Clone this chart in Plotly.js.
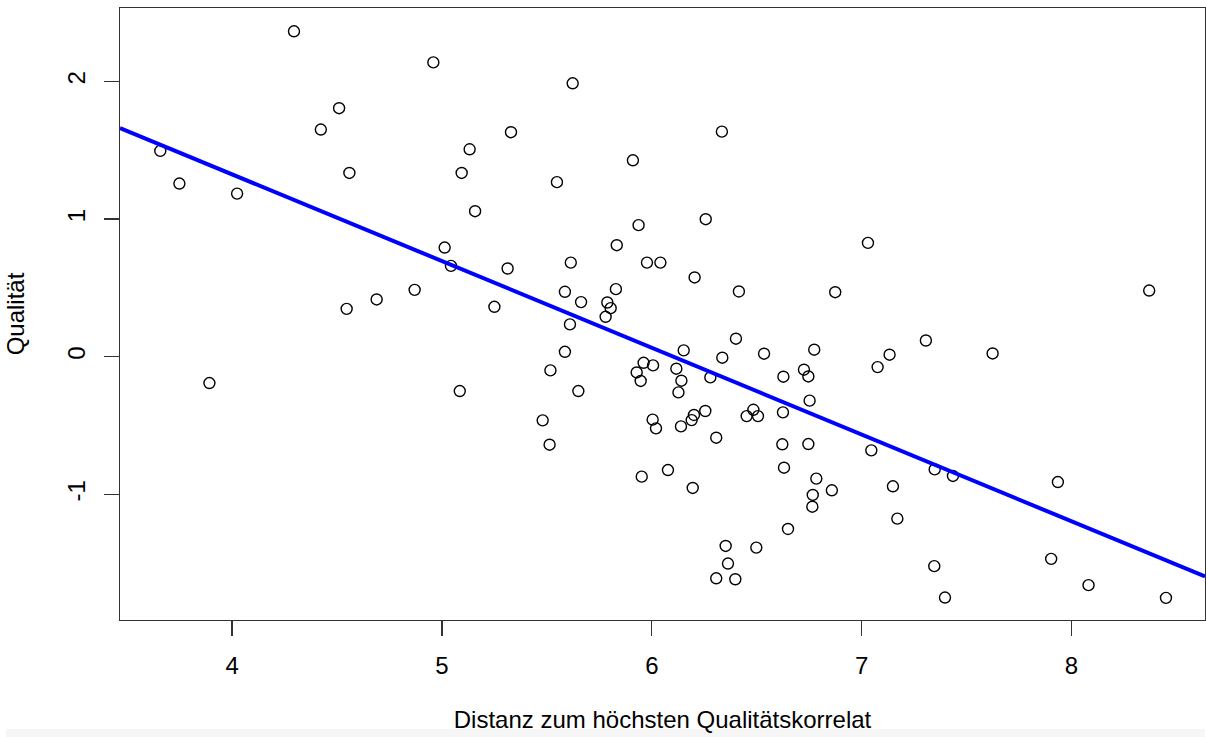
<!DOCTYPE html>
<html>
<head>
<meta charset="utf-8">
<script src="https://cdn.plot.ly/plotly-3.0.1.min.js"></script>
<style>
html,body{margin:0;padding:0;background:#fff;}
#chart{width:1206px;height:737px;}
</style>
</head>
<body>
<div id="chart"></div>
<script>
// Distanz zum höchsten Qualitätskorrelat (x) vs. Qualität (y)
var distanz = [
  4.295, 4.510, 4.423, 4.559, 3.658, 3.749, 4.024, 4.546, 4.689, 4.870,
  3.892,
  4.959, 5.623, 5.329, 5.132, 5.094, 5.548, 5.910, 6.334, 5.158, 5.937,
  6.257, 5.833, 5.013, 5.043, 5.313, 5.614, 5.977, 6.041, 6.204, 6.415,
  5.250, 5.586, 5.663, 5.829, 5.788, 5.804, 5.780, 5.610,
  7.030, 6.874, 8.370,
  5.586, 5.517, 5.085, 5.650, 5.480, 5.513,
  6.152, 6.401, 6.336, 6.535, 6.774,
  5.961, 6.006, 5.928, 5.947,
  6.117, 6.141, 6.127, 6.279,
  6.627, 6.725, 6.746, 6.752,
  6.625, 6.255, 6.201, 6.190, 6.139, 6.004, 6.020,
  6.484, 6.452, 6.506,
  6.307, 6.622, 6.746,
  6.630, 6.784, 6.767, 6.765,
  5.952, 6.077, 6.195,
  6.649, 6.352, 6.498, 6.363, 6.307, 6.398,
  6.858, 7.306, 7.133, 7.076, 7.624, 7.046, 7.348, 7.435, 7.149, 7.170,
  7.935, 7.346, 7.903, 8.081, 7.397, 8.450
];
var qualitaet = [
  2.364, 1.805, 1.650, 1.335, 1.495, 1.258, 1.185, 0.348, 0.416, 0.486,
  -0.191,
  2.138, 1.986, 1.631, 1.507, 1.335, 1.268, 1.427, 1.635, 1.057, 0.956,
  0.999, 0.810, 0.793, 0.660, 0.641, 0.684, 0.684, 0.684, 0.576, 0.474,
  0.363, 0.472, 0.397, 0.491, 0.394, 0.353, 0.290, 0.235,
  0.827, 0.469, 0.481,
  0.036, -0.099, -0.249, -0.249, -0.462, -0.639,
  0.046, 0.131, -0.007, 0.022, 0.051,
  -0.044, -0.063, -0.114, -0.176,
  -0.087, -0.174, -0.259, -0.150,
  -0.145, -0.094, -0.143, -0.319,
  -0.404, -0.394, -0.423, -0.460, -0.506, -0.457, -0.520,
  -0.385, -0.431, -0.431,
  -0.588, -0.636, -0.634,
  -0.806, -0.885, -1.004, -1.089,
  -0.871, -0.823, -0.953,
  -1.251, -1.374, -1.386, -1.502, -1.609, -1.616,
  -0.970, 0.118, 0.015, -0.075, 0.024, -0.680, -0.818, -0.866, -0.941, -1.176,
  -0.910, -1.521, -1.468, -1.659, -1.749, -1.751
];

// Regression line (abline) coefficients
var fitIntercept = 3.845;
var fitSlope = -0.630;

// Axis ranges and tick labels
var xRange = [3.466, 8.636];
var yRange = [-1.912, 2.533];
var xTicks = [4, 5, 6, 7, 8];
var xTickLabels = ["4", "5", "6", "7", "8"];
var yTicks = [-1, 0, 1, 2];
var yTickLabels = ["-1", "0", "1", "2"];

var lineX = xRange.slice();
var lineY = lineX.map(function (x) { return fitIntercept + fitSlope * x; });

var fontFam = 'Liberation Sans, Arial, Helvetica, sans-serif';

var traces = [
  {
    type: 'scatter', mode: 'markers',
    x: distanz, y: qualitaet,
    marker: {symbol: 'circle-open', size: 11, color: '#000', line: {width: 1.4, color: '#000'}},
    hoverinfo: 'skip', showlegend: false, cliponaxis: true
  },
  {
    type: 'scatter', mode: 'lines',
    x: lineX, y: lineY,
    line: {color: '#0000ff', width: 4},
    hoverinfo: 'skip', showlegend: false
  }
];

var layout = {
  width: 1206, height: 737,
  margin: {l: 120, r: 1, t: 8, b: 117, pad: 0},
  paper_bgcolor: '#ffffff', plot_bgcolor: '#ffffff',
  font: {family: fontFam, size: 24, color: '#000'},
  showlegend: false,
  xaxis: {
    range: xRange, autorange: false,
    tickmode: 'array', tickvals: xTicks, ticktext: xTickLabels,
    ticks: 'outside', ticklen: 15, tickwidth: 1.3, tickcolor: '#333',
    showgrid: false, zeroline: false,
    showline: true, mirror: true, linecolor: '#333', linewidth: 1.3,
    tickfont: {family: fontFam, size: 24, color: '#000'},
    ticklabelstandoff: 9,
    title: {text: 'Distanz zum höchsten Qualitätskorrelat', font: {family: fontFam, size: 24, color: '#000'}, standoff: 33}
  },
  yaxis: {
    range: yRange, autorange: false,
    tickmode: 'array', tickvals: yTicks, ticktext: yTickLabels,
    tickangle: -90,
    ticks: 'outside', ticklen: 15, tickwidth: 1.3, tickcolor: '#333',
    showgrid: false, zeroline: false,
    showline: true, mirror: true, linecolor: '#333', linewidth: 1.3,
    tickfont: {family: fontFam, size: 24, color: '#000'},
    ticklabelstandoff: 9,
    title: {text: 'Qualität', font: {family: fontFam, size: 24, color: '#000'}, standoff: 31}
  },
  shapes: [
    {type: 'rect', xref: 'paper', yref: 'paper', x0: -0.105, x1: 1.0, y0: -0.192, y1: -0.178,
     fillcolor: '#f6f6f6', line: {width: 0}, layer: 'below'}
  ]
};

Plotly.newPlot('chart', traces, layout, {displayModeBar: false, staticPlot: true});
</script>
</body>
</html>
